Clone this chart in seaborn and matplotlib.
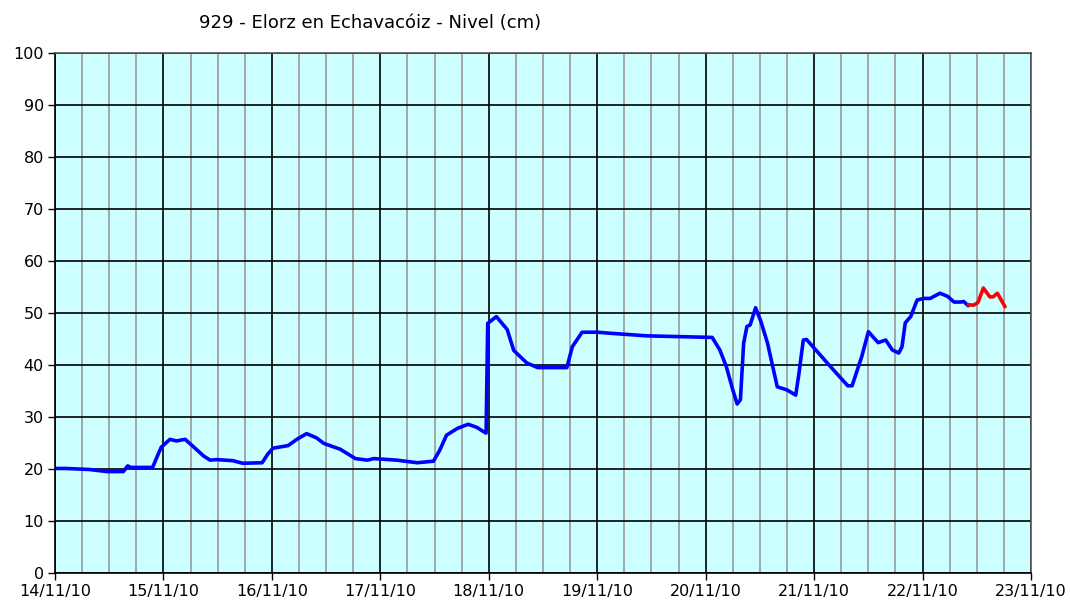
import numpy as np
import pandas as pd
import matplotlib
matplotlib.use("Agg")
import matplotlib.pyplot as plt
import matplotlib.dates as mdates
from matplotlib.ticker import MultipleLocator
import seaborn as sns

# Water level at station 929 (Elorz en Echavacóiz), days after 14/11/2010 00:00
obs_days = [0.00, 0.10, 0.32, 0.48, 0.63, 0.67, 0.70, 0.78, 0.90, 0.94, 0.98, 1.06,
            1.12, 1.20, 1.27, 1.37, 1.43, 1.49, 1.64, 1.73, 1.91, 1.96, 2.01, 2.15,
            2.23, 2.32, 2.41, 2.48, 2.63, 2.77, 2.88, 2.94, 3.15, 3.34, 3.49, 3.55,
            3.61, 3.71, 3.81, 3.89, 3.95, 3.975, 3.99, 4.07, 4.17, 4.23, 4.35, 4.45,
            4.72, 4.77, 4.86, 5.00, 5.12, 5.46, 5.86, 6.06, 6.13, 6.19, 6.25, 6.29,
            6.32, 6.35, 6.38, 6.41, 6.46, 6.51, 6.57, 6.66, 6.75, 6.83, 6.86, 6.90,
            6.93, 7.15, 7.31, 7.35, 7.44, 7.50, 7.59, 7.66, 7.72, 7.78, 7.81, 7.84,
            7.89, 7.95, 8.01, 8.07, 8.16, 8.23, 8.29, 8.35, 8.38, 8.42]
obs_level = [20.1, 20.1, 19.9, 19.5, 19.5, 20.6, 20.3, 20.3, 20.3, 22.3, 24.2, 25.7,
             25.4, 25.7, 24.4, 22.5, 21.7, 21.8, 21.6, 21.1, 21.2, 22.8, 24.0, 24.5,
             25.7, 26.8, 26.0, 24.9, 23.8, 22.0, 21.7, 22.0, 21.7, 21.2, 21.5, 23.7,
             26.5, 27.8, 28.6, 28.0, 27.2, 26.9, 48.0, 49.3, 46.8, 42.8, 40.4, 39.5,
             39.5, 43.5, 46.3, 46.3, 46.1, 45.6, 45.4, 45.3, 42.9, 39.7, 35.2, 32.5,
             33.3, 44.2, 47.4, 47.7, 51.0, 48.3, 44.2, 35.8, 35.2, 34.2, 38.4, 44.8,
             44.9, 39.7, 36.0, 36.0, 41.7, 46.4, 44.3, 44.8, 42.9, 42.3, 43.5, 48.1,
             49.3, 52.5, 52.8, 52.8, 53.8, 53.2, 52.1, 52.1, 52.2, 51.4]

# Provisional readings (shown in red)
prov_days = [8.42, 8.47, 8.51, 8.56, 8.62, 8.65, 8.69, 8.73, 8.76]
prov_level = [51.6, 51.5, 52.0, 54.8, 53.1, 53.1, 53.8, 52.3, 51.2]

start = pd.Timestamp("2010-11-14")
end = pd.Timestamp("2010-11-23")
title = "929 - Elorz en Echavacóiz - Nivel (cm)"

obs = pd.DataFrame({"time": start + pd.to_timedelta(obs_days, unit="D"), "level": obs_level})
prov = pd.DataFrame({"time": start + pd.to_timedelta(prov_days, unit="D"), "level": prov_level})

sns.set_theme(style="white")
plt.rcParams["font.family"] = ["DejaVu Sans"]

fig = plt.figure(figsize=(10.70, 6.02), dpi=100)
ax = fig.add_axes([0.0514, 0.0482, 0.9122, 0.8638])
ax.set_facecolor("#CCFFFF")

sns.lineplot(data=obs, x="time", y="level", ax=ax, color="#0000FF", linewidth=2.6)
sns.lineplot(data=prov, x="time", y="level", ax=ax, color="#FF0000", linewidth=2.6)

ax.set_xlim(start, end)
ax.set_ylim(0, 100)
ax.yaxis.set_major_locator(MultipleLocator(10))
ax.xaxis.set_major_locator(mdates.DayLocator())
ax.xaxis.set_minor_locator(mdates.HourLocator(byhour=[6, 12, 18]))
ax.xaxis.set_major_formatter(mdates.DateFormatter("%d/%m/%y"))

ax.grid(True, which="minor", axis="x", color="#A0A0A0", linewidth=1.3)
ax.grid(True, which="major", axis="both", color="#000000", linewidth=1.2)
ax.set_axisbelow(True)

ax.tick_params(axis="both", which="major", direction="out", length=5, width=1,
               color="black", labelsize=11.5, labelcolor="black", bottom=True, left=True)
ax.tick_params(axis="x", which="minor", length=0)
ax.tick_params(axis="x", pad=3)
ax.tick_params(axis="y", pad=3)
ax.set_xlabel("")
ax.set_ylabel("")
for side in ("left", "bottom", "top", "right"):
    ax.spines[side].set_color("#555555")
    ax.spines[side].set_linewidth(1.2)
for side in ("left", "bottom"):
    ax.spines[side].set_color("black")

fig.text(0.346, 0.962, title, ha="center", va="center", fontsize=13, color="black")

fig.savefig("out.png", dpi=100, facecolor="white")
